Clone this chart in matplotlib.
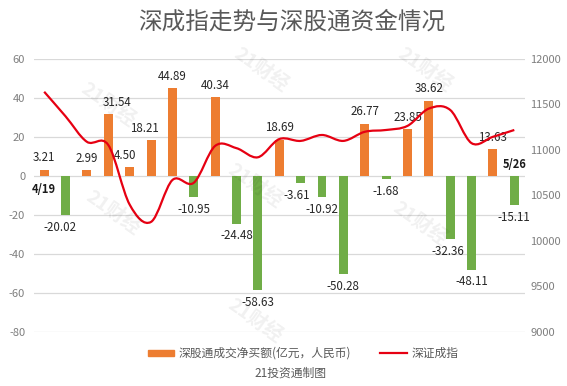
import matplotlib
matplotlib.use("Agg")
import matplotlib.pyplot as plt
from matplotlib.path import Path
from matplotlib.patches import PathPatch
import numpy as np

plt.rcParams['font.family'] = ['Noto Sans CJK SC', 'DejaVu Sans']
plt.rcParams['axes.unicode_minus'] = False

# ---- data ----
dates = ["4/19", "4/20", "4/21", "4/22", "4/25", "4/26", "4/27", "4/28", "4/29", "5/5",
         "5/6", "5/9", "5/10", "5/11", "5/12", "5/13", "5/16", "5/17", "5/18", "5/19",
         "5/20", "5/23", "5/24"]
net_buy = [3.21, -20.02, 2.99, 31.54, 4.50, 18.21, 44.89, -10.95, 40.34, -24.48,
           -58.63, 18.69, -3.61, -10.92, -50.28, 26.77, -1.68, 23.85, 38.62, -32.36,
           -48.11, 13.63, -15.11]
szci = [11640, 11370, 11090, 11055, 10400, 10210, 10670, 10640, 11045, 11020,
        10920, 11120, 11100, 11165, 11100, 11200, 11220, 11265, 11455, 11440,
        11075, 11145, 11220]
left_ticks = [60, 40, 20, 0, -20, -40, -60, -80]
right_ticks = [12000, 11500, 11000, 10500, 10000, 9500, 9000]
title = "深成指走势与深股通资金情况"
bar_label = "深股通成交净买额(亿元，人民币)"
line_label = "深证成指"
source = "21投资通制图"

ORANGE = "#ED7D31"
GREEN = "#70AD47"
RED = "#E60012"
GRID = "#D9D9D9"
TICK = "#7F7F7F"

fig = plt.figure(figsize=(5.67, 3.86), dpi=100)
ax = fig.add_axes([33.5 / 567, 1 - 332 / 386, (525 - 33.5) / 567, (332 - 59) / 386])
ax2 = ax.twinx()

x = np.arange(len(net_buy))
colors = [ORANGE if v >= 0 else GREEN for v in net_buy]
ax.bar(x, net_buy, width=0.42, color=colors, zorder=2)

ax.set_xlim(-0.5, len(net_buy) - 0.5)
ax.set_ylim(-80, 60)
ax.set_yticks(left_ticks)
ax.set_yticklabels([str(t) for t in left_ticks])
ax.yaxis.grid(True, color=GRID, linewidth=0.9, zorder=0)
ax.set_axisbelow(True)
ax.set_xticks([])
for sp in ax.spines.values():
    sp.set_visible(False)
for sp in ax2.spines.values():
    sp.set_visible(False)
ax.tick_params(axis='y', length=0, labelsize=8, labelcolor=TICK, pad=6)

ax2.set_ylim(9000, 12000)
ax2.set_yticks(right_ticks)
ax2.set_yticklabels([str(t) for t in right_ticks])
ax2.tick_params(axis='y', length=0, labelsize=8, labelcolor=TICK, pad=4)

# smooth line through the index values (Catmull-Rom -> Bezier)
pts = np.column_stack([x, szci]).astype(float)
n = len(pts)
verts = [tuple(pts[0])]
codes = [Path.MOVETO]
for i in range(n - 1):
    p0 = pts[i - 1] if i > 0 else pts[i]
    p1 = pts[i]
    p2 = pts[i + 1]
    p3 = pts[i + 2] if i + 2 < n else pts[i + 1]
    c1 = p1 + (p2 - p0) / 6.0
    c2 = p2 - (p3 - p1) / 6.0
    verts += [tuple(c1), tuple(c2), tuple(p2)]
    codes += [Path.CURVE4] * 3
ax2.add_patch(PathPatch(Path(verts, codes), facecolor='none', edgecolor=RED,
                        linewidth=1.6, zorder=3))

# data labels
nudge_x = {3: 6, 4: -3, 5: -5, 1: -4, 12: -3, 19: -2}
for i, v in enumerate(net_buy):
    dx = nudge_x.get(i, 0)
    if v >= 0:
        ax.annotate(f"{v:.2f}", (i, v), xytext=(dx, 4), textcoords='offset points',
                    ha='center', va='bottom', fontsize=8.3, color="#262626", zorder=5)
    else:
        ax.annotate(f"{v:.2f}", (i, v), xytext=(dx, -4), textcoords='offset points',
                    ha='center', va='top', fontsize=8.3, color="#262626", zorder=5)

# first / last date labels
ax.annotate(dates[0], (0, 0), xytext=(0, -10), textcoords='offset points',
            ha='center', va='center', fontsize=8, fontweight='bold', color="#1a1a1a")
ax.annotate("5/26", (len(net_buy) - 1, 0), xytext=(0, 8), textcoords='offset points',
            ha='center', va='center', fontsize=8, fontweight='bold', color="#1a1a1a")

# watermarks
for (wx, wy) in [(0.19, 0.73), (0.45, 0.52), (0.74, 0.42), (0.2, 0.45), (0.46, 0.82),
                 (0.75, 0.82), (0.45, 0.17)]:
    fig.text(wx, wy, "21财经", rotation=-35, fontsize=14, fontweight='bold',
             color="#000000", alpha=0.06, ha='center', va='center')

fig.text(292 / 567, 1 - 22 / 386, title, ha='center', va='center', fontsize=17,
         color="#595959")

# legend (manual)
fig.patches.append(plt.Rectangle((148 / 567, 1 - 356 / 386), 26 / 567, 6 / 386,
                                 transform=fig.transFigure, color=ORANGE))
fig.text(179 / 567, 1 - 353 / 386, bar_label, ha='left', va='center', fontsize=8.5,
         color="#595959")
fig.lines.append(plt.Line2D([380 / 567, 407 / 567], [1 - 353 / 386] * 2,
                            transform=fig.transFigure, color=RED, linewidth=1.6))
fig.text(412 / 567, 1 - 353 / 386, line_label, ha='left', va='center', fontsize=8.5,
         color="#595959")
fig.text(290 / 567, 1 - 373 / 386, source, ha='center', va='center', fontsize=8.5,
         color="#595959")

fig.savefig("out.png", dpi=100)
